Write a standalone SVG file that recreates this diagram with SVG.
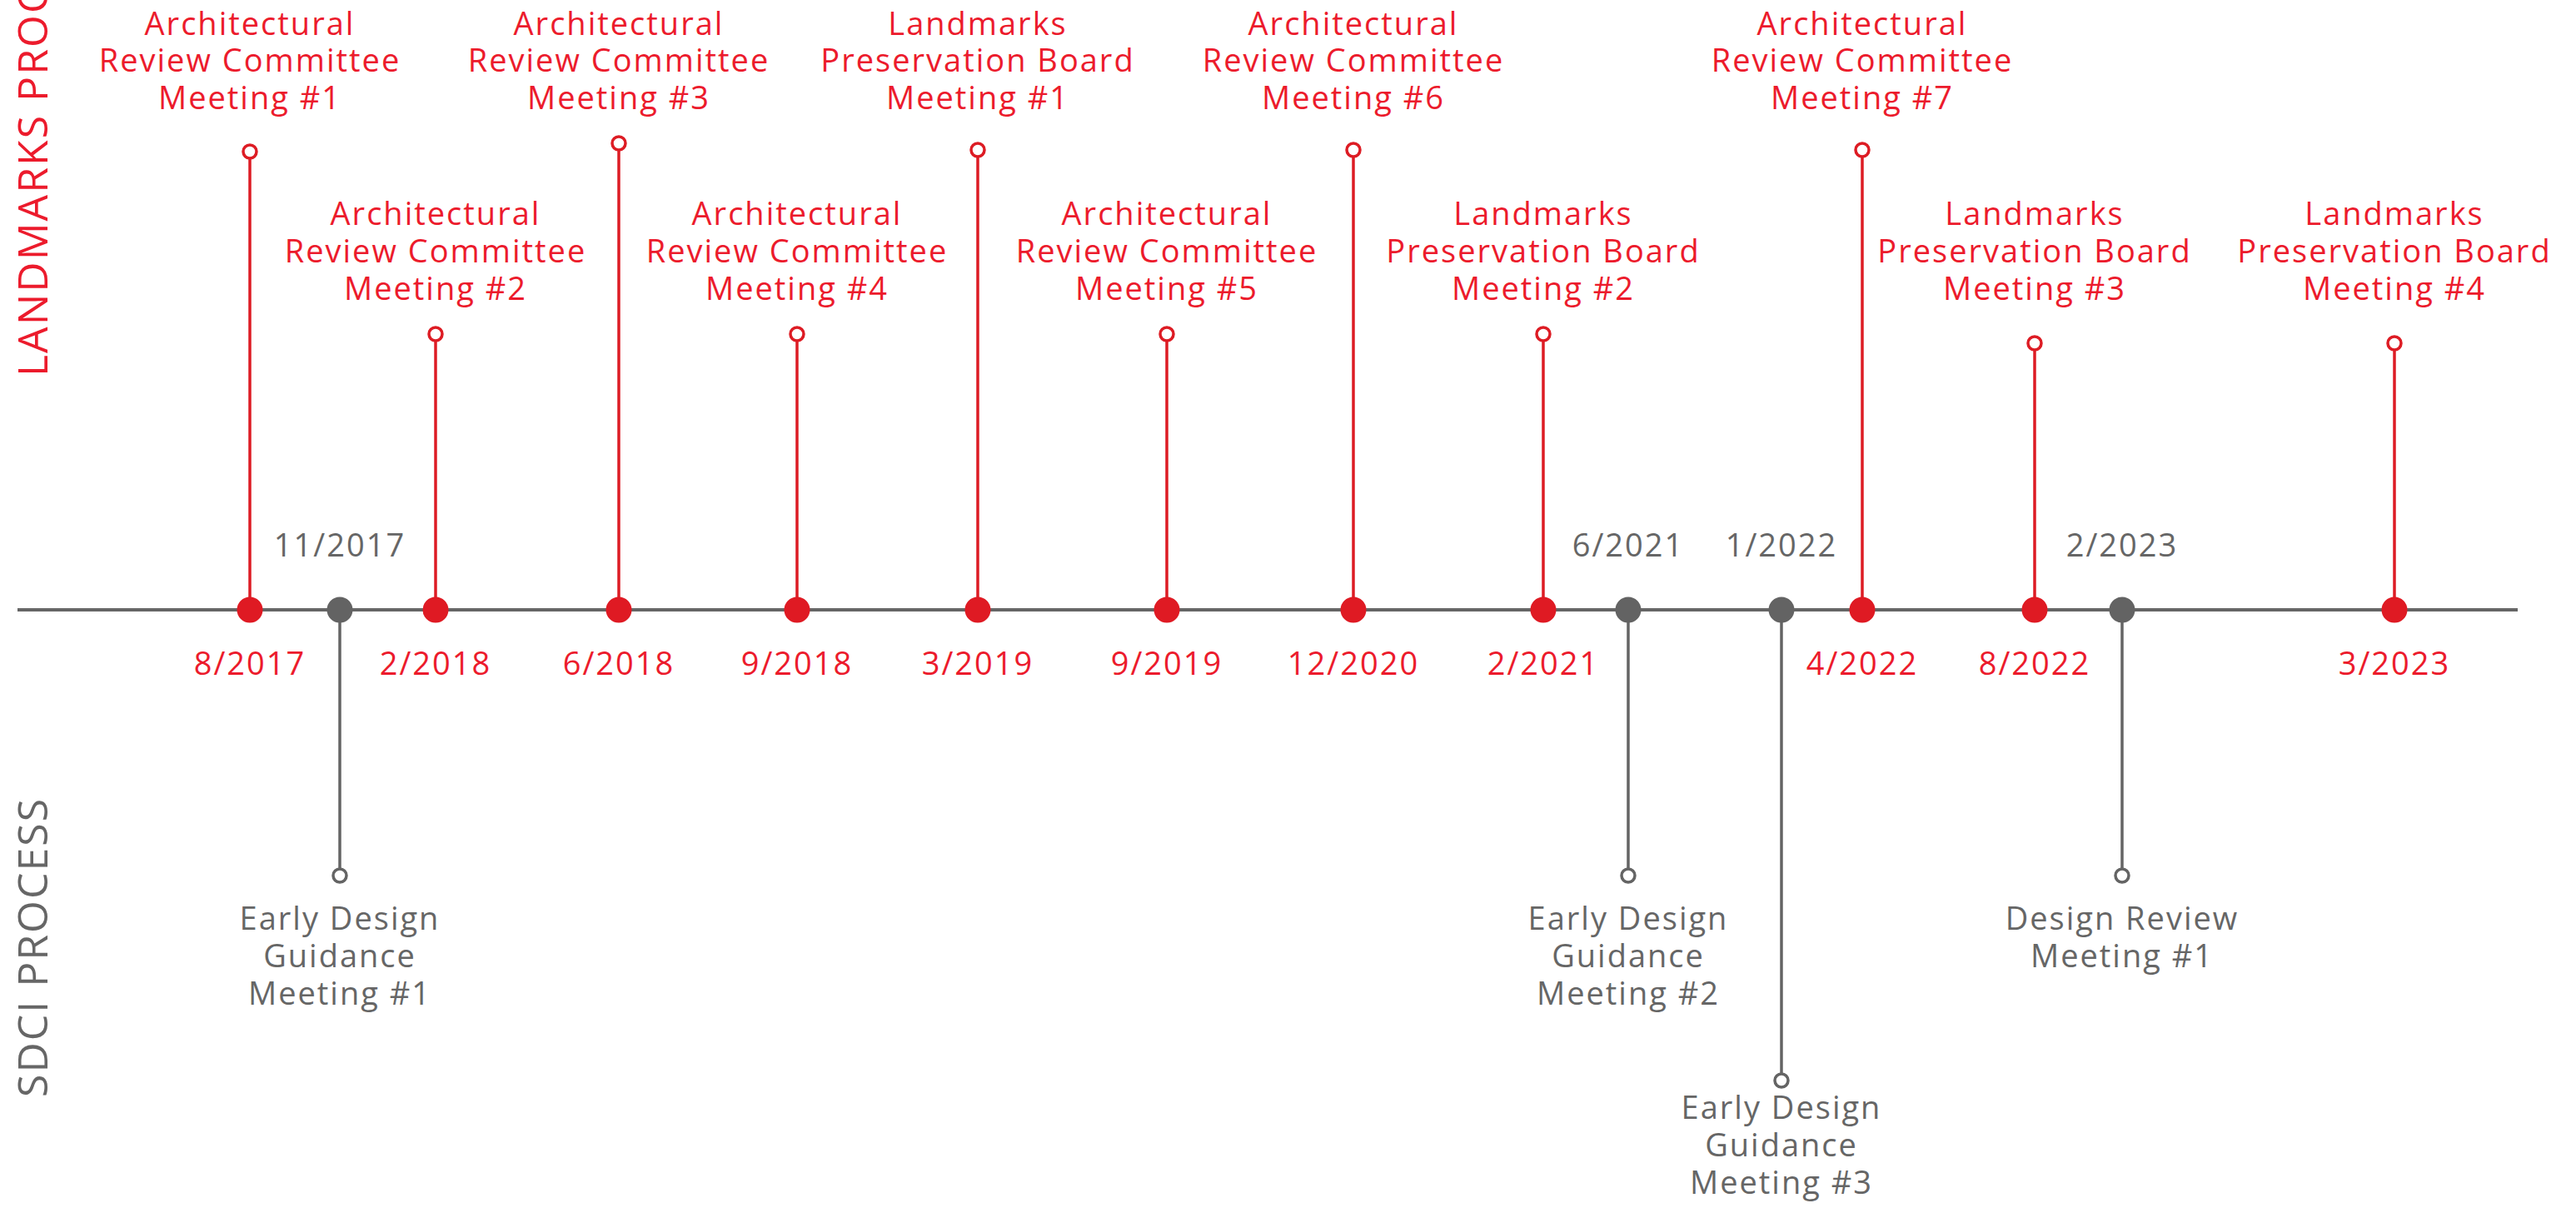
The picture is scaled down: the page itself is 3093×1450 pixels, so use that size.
<svg xmlns="http://www.w3.org/2000/svg" width="3093" height="1450" viewBox="0 0 3093 1450">
<style>
text{font-family:"Open Sans","Noto Sans","Liberation Sans",sans-serif;font-size:38px;letter-spacing:2px;text-anchor:middle}
.r{fill:#EC1B2C}
.g{fill:#666666}
.side{font-size:50px;text-anchor:start;letter-spacing:2px}
.stemR{stroke:#DD1C24;stroke-width:3.5;fill:none}
.stemG{stroke:#646464;stroke-width:3.5;fill:none}
.dotR{fill:#DF1A23}
.dotG{fill:#636363}
.hR{fill:#fff;stroke:#DD1C24;stroke-width:3.5}
.hG{fill:#fff;stroke:#646464;stroke-width:3.5}
.axis{stroke:#666666;stroke-width:4}
</style>
<rect width="3093" height="1450" fill="#fff"/>
<g id="side-labels">
<text class="side r" transform="translate(57,452) rotate(-90)">LANDMARKS PROCESS</text>
<text class="side g" transform="translate(57,1317) rotate(-90)">SDCI PROCESS</text>
</g>
<g id="connectors">
<line class="axis" x1="21" y1="732" x2="3023" y2="732"/>
<line class="stemR" x1="300" y1="190" x2="300" y2="732"/>
<line class="stemR" x1="523" y1="409" x2="523" y2="732"/>
<line class="stemR" x1="743" y1="180" x2="743" y2="732"/>
<line class="stemR" x1="957" y1="409" x2="957" y2="732"/>
<line class="stemR" x1="1174" y1="188" x2="1174" y2="732"/>
<line class="stemR" x1="1401" y1="409" x2="1401" y2="732"/>
<line class="stemR" x1="1625" y1="188" x2="1625" y2="732"/>
<line class="stemR" x1="1853" y1="409" x2="1853" y2="732"/>
<line class="stemR" x1="2236" y1="188" x2="2236" y2="732"/>
<line class="stemR" x1="2443" y1="420" x2="2443" y2="732"/>
<line class="stemR" x1="2875" y1="420" x2="2875" y2="732"/>
<line class="stemG" x1="408" y1="732" x2="408" y2="1043"/>
<line class="stemG" x1="1955" y1="732" x2="1955" y2="1043"/>
<line class="stemG" x1="2139" y1="732" x2="2139" y2="1289"/>
<line class="stemG" x1="2548" y1="732" x2="2548" y2="1043"/>
</g>
<g id="arc1"><circle class="hR" cx="300" cy="182" r="8"/><circle class="dotR" cx="300" cy="732" r="15.5"/>
<text class="r" x="300" y="42">Architectural</text><text class="r" x="300" y="86">Review Committee</text><text class="r" x="300" y="131">Meeting #1</text>
<text class="r" x="300" y="810">8/2017</text></g>
<g id="edg1"><circle class="hG" cx="408" cy="1051" r="8"/><circle class="dotG" cx="408" cy="732" r="15.5"/>
<text class="g" x="408" y="668">11/2017</text>
<text class="g" x="408" y="1116">Early Design</text><text class="g" x="408" y="1161">Guidance</text><text class="g" x="408" y="1206">Meeting #1</text></g>
<g id="arc2"><circle class="hR" cx="523" cy="401" r="8"/><circle class="dotR" cx="523" cy="732" r="15.5"/>
<text class="r" x="523" y="270">Architectural</text><text class="r" x="523" y="315">Review Committee</text><text class="r" x="523" y="360">Meeting #2</text>
<text class="r" x="523" y="810">2/2018</text></g>
<g id="arc3"><circle class="hR" cx="743" cy="172" r="8"/><circle class="dotR" cx="743" cy="732" r="15.5"/>
<text class="r" x="743" y="42">Architectural</text><text class="r" x="743" y="86">Review Committee</text><text class="r" x="743" y="131">Meeting #3</text>
<text class="r" x="743" y="810">6/2018</text></g>
<g id="arc4"><circle class="hR" cx="957" cy="401" r="8"/><circle class="dotR" cx="957" cy="732" r="15.5"/>
<text class="r" x="957" y="270">Architectural</text><text class="r" x="957" y="315">Review Committee</text><text class="r" x="957" y="360">Meeting #4</text>
<text class="r" x="957" y="810">9/2018</text></g>
<g id="lpb1"><circle class="hR" cx="1174" cy="180" r="8"/><circle class="dotR" cx="1174" cy="732" r="15.5"/>
<text class="r" x="1174" y="42">Landmarks</text><text class="r" x="1174" y="86">Preservation Board</text><text class="r" x="1174" y="131">Meeting #1</text>
<text class="r" x="1174" y="810">3/2019</text></g>
<g id="arc5"><circle class="hR" cx="1401" cy="401" r="8"/><circle class="dotR" cx="1401" cy="732" r="15.5"/>
<text class="r" x="1401" y="270">Architectural</text><text class="r" x="1401" y="315">Review Committee</text><text class="r" x="1401" y="360">Meeting #5</text>
<text class="r" x="1401" y="810">9/2019</text></g>
<g id="arc6"><circle class="hR" cx="1625" cy="180" r="8"/><circle class="dotR" cx="1625" cy="732" r="15.5"/>
<text class="r" x="1625" y="42">Architectural</text><text class="r" x="1625" y="86">Review Committee</text><text class="r" x="1625" y="131">Meeting #6</text>
<text class="r" x="1625" y="810">12/2020</text></g>
<g id="lpb2"><circle class="hR" cx="1853" cy="401" r="8"/><circle class="dotR" cx="1853" cy="732" r="15.5"/>
<text class="r" x="1853" y="270">Landmarks</text><text class="r" x="1853" y="315">Preservation Board</text><text class="r" x="1853" y="360">Meeting #2</text>
<text class="r" x="1853" y="810">2/2021</text></g>
<g id="edg2"><circle class="hG" cx="1955" cy="1051" r="8"/><circle class="dotG" cx="1955" cy="732" r="15.5"/>
<text class="g" x="1955" y="668">6/2021</text>
<text class="g" x="1955" y="1116">Early Design</text><text class="g" x="1955" y="1161">Guidance</text><text class="g" x="1955" y="1206">Meeting #2</text></g>
<g id="edg3"><circle class="hG" cx="2139" cy="1297" r="8"/><circle class="dotG" cx="2139" cy="732" r="15.5"/>
<text class="g" x="2139" y="668">1/2022</text>
<text class="g" x="2139" y="1343">Early Design</text><text class="g" x="2139" y="1388">Guidance</text><text class="g" x="2139" y="1433">Meeting #3</text></g>
<g id="arc7"><circle class="hR" cx="2236" cy="180" r="8"/><circle class="dotR" cx="2236" cy="732" r="15.5"/>
<text class="r" x="2236" y="42">Architectural</text><text class="r" x="2236" y="86">Review Committee</text><text class="r" x="2236" y="131">Meeting #7</text>
<text class="r" x="2236" y="810">4/2022</text></g>
<g id="lpb3"><circle class="hR" cx="2443" cy="412" r="8"/><circle class="dotR" cx="2443" cy="732" r="15.5"/>
<text class="r" x="2443" y="270">Landmarks</text><text class="r" x="2443" y="315">Preservation Board</text><text class="r" x="2443" y="360">Meeting #3</text>
<text class="r" x="2443" y="810">8/2022</text></g>
<g id="drm1"><circle class="hG" cx="2548" cy="1051" r="8"/><circle class="dotG" cx="2548" cy="732" r="15.5"/>
<text class="g" x="2548" y="668">2/2023</text>
<text class="g" x="2548" y="1116">Design Review</text><text class="g" x="2548" y="1161">Meeting #1</text></g>
<g id="lpb4"><circle class="hR" cx="2875" cy="412" r="8"/><circle class="dotR" cx="2875" cy="732" r="15.5"/>
<text class="r" x="2875" y="270">Landmarks</text><text class="r" x="2875" y="315">Preservation Board</text><text class="r" x="2875" y="360">Meeting #4</text>
<text class="r" x="2875" y="810">3/2023</text></g>
</svg>
